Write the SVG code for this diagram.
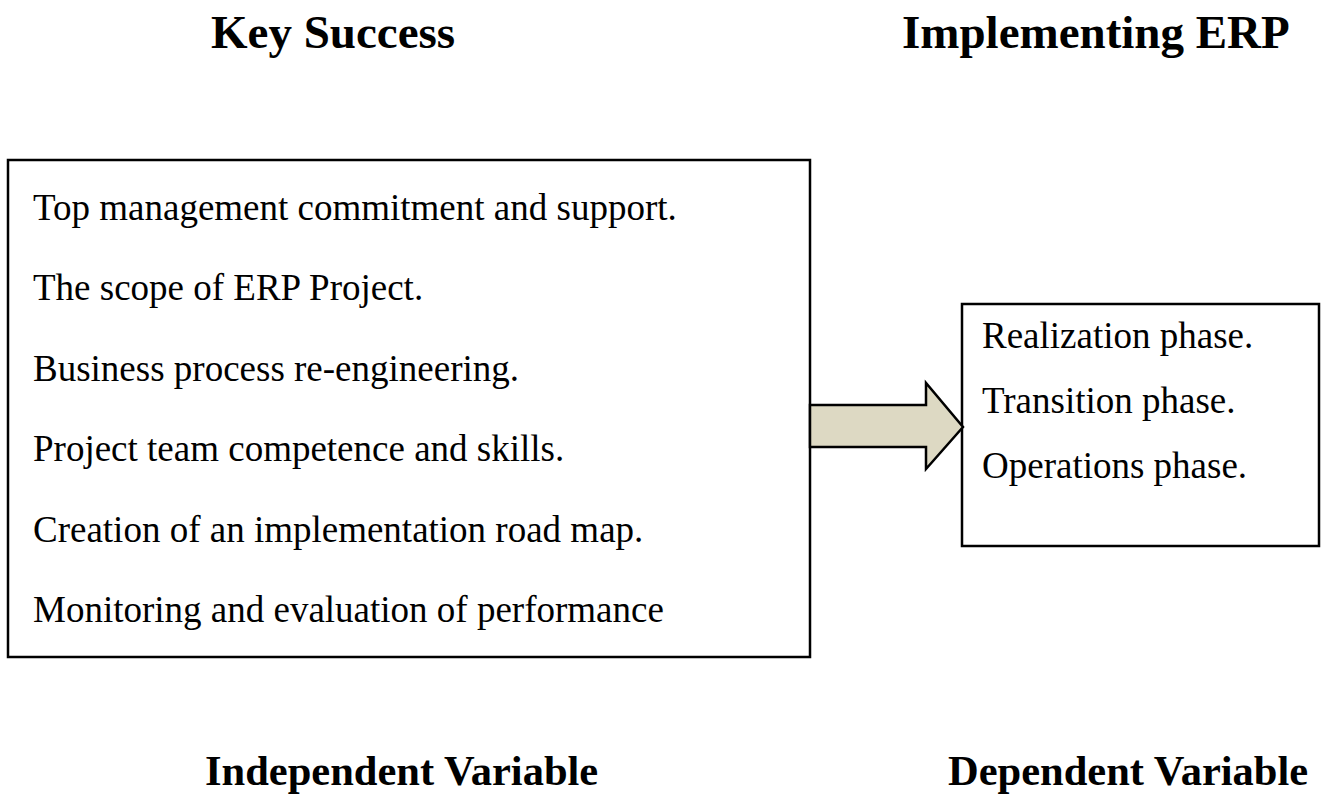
<svg xmlns="http://www.w3.org/2000/svg" width="1326" height="796" viewBox="0 0 1326 796">
  <style>
    .title { font-family: "Liberation Serif", "Times New Roman", serif; font-weight: bold; font-size: 47px; fill: #000; }
    .label { font-family: "Liberation Serif", "Times New Roman", serif; font-weight: bold; font-size: 42.5px; fill: #000; }
    .item { font-family: "Liberation Serif", "Times New Roman", serif; font-size: 37px; fill: #000; }
    .box { fill: #fff; stroke: #000; stroke-width: 2.5; }
    .arrow { fill: #ddd9c3; stroke: #000; stroke-width: 2.5; stroke-linejoin: miter; }
  </style>
  <rect width="1326" height="796" fill="#fff"/>

  <!-- Headings -->
  <g id="headings">
    <text class="title" x="211" y="48">Key Success</text>
    <text class="title" x="902" y="48">Implementing ERP</text>
    <text class="label" x="205" y="785">Independent Variable</text>
    <text class="label" x="948" y="785">Dependent Variable</text>
  </g>

  <!-- Independent variables -->
  <g id="key-success">
    <rect class="box" x="8" y="160" width="802" height="497"/>
    <text class="item" x="33" y="220">Top management commitment and support.</text>
    <text class="item" x="33" y="300">The scope of ERP Project.</text>
    <text class="item" x="33" y="381">Business process re-engineering.</text>
    <text class="item" x="33" y="461">Project team competence and skills.</text>
    <text class="item" x="33" y="542">Creation of an implementation road map.</text>
    <text class="item" x="33" y="622">Monitoring and evaluation of performance</text>
  </g>

  <!-- Dependent variables -->
  <g id="implementing-erp">
    <rect class="box" x="962" y="304" width="357" height="242"/>
    <text class="item" x="982" y="348">Realization phase.</text>
    <text class="item" x="982" y="413">Transition phase.</text>
    <text class="item" x="982" y="478">Operations phase.</text>
  </g>

  <!-- Connector -->
  <g id="connectors">
    <path class="arrow" d="M810,405 H926 V383 L963,427 L926,469 V447 H810 Z"/>
  </g>
</svg>
